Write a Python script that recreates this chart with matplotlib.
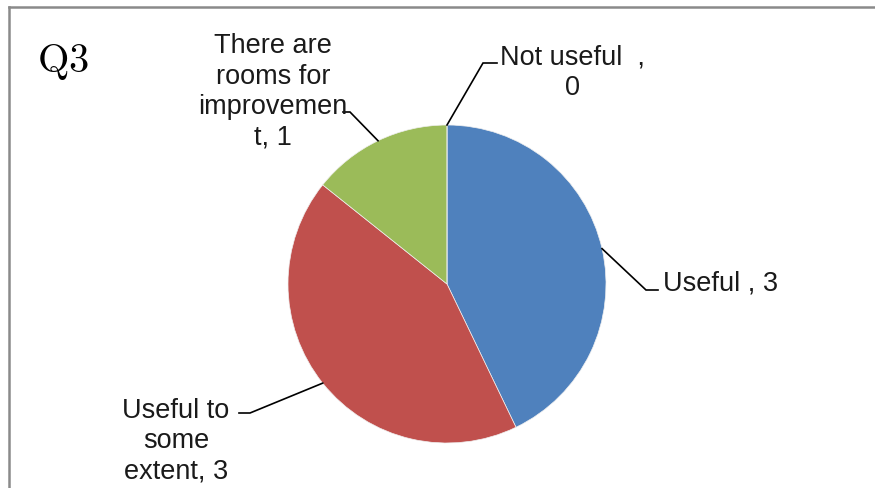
import numpy as np
import matplotlib
matplotlib.use("Agg")
import matplotlib.pyplot as plt
from matplotlib.lines import Line2D

title = "Q3"
categories = ["Useful ", "Useful to some extent", "There are rooms for improvement", "Not useful  "]
values = [3, 3, 1, 0]
label_texts = ["Useful , 3", "Useful to\nsome\nextent, 3", "There are\nrooms for\nimprovemen\nt, 1", "Not useful  ,\n0"]
colors = ["#4F81BD", "#C0504D", "#9BBB59", "#8064A2"]

plt.rcParams["font.family"] = ["Liberation Sans", "DejaVu Sans"]
plt.rcParams["mathtext.fontset"] = "cm"

W, H = 875, 488
fig = plt.figure(figsize=(W / 100, H / 100), dpi=100)
ax = fig.add_axes([0, 0, 1, 1])

cx, cy, R = 447, H - 284, 159
wedges, _ = ax.pie(values, colors=colors, startangle=90, counterclock=False,
                   center=(cx, cy), radius=R, frame=True,
                   wedgeprops=dict(linewidth=0.5, edgecolor="#f0f0f0"))
ax.set_xlim(0, W)
ax.set_ylim(0, H)
ax.axis("off")

# label layout: (elbow point, end point, text position, ha)
layout = [
    ((646, H - 290), (658, H - 290), (663, H - 283), "left"),
    ((250, H - 413), (239, H - 413), (176, H - 441), "center"),
    ((350, H - 112), (343, H - 112), (273, H - 92), "center"),
    ((483, H - 63), (497, H - 63), (572, H - 73), "center"),
]
for w, txt, (elb, end, tpos, ha) in zip(wedges, label_texts, layout):
    ang = np.deg2rad((w.theta1 + w.theta2) / 2)
    ex, ey = cx + R * np.cos(ang), cy + R * np.sin(ang)
    ax.plot([ex, elb[0], end[0]], [ey, elb[1], end[1]], color="black", lw=1.2,
            solid_joinstyle="miter")
    ax.text(tpos[0], tpos[1], txt, ha=ha, va="center", multialignment="center",
            fontsize=19.5, color="#1a1a1a", linespacing=1.22)

fig.text(37 / W, 1 - 62 / H, r"$\mathrm{" + title + "}$", fontsize=29,
         ha="left", va="center", color="black")

# outer border (top and left visible)
fig.add_artist(Line2D([8.5 / W, 1], [1 - 6.5 / H, 1 - 6.5 / H], transform=fig.transFigure,
                      color="#8a8a8a", lw=1.8))
fig.add_artist(Line2D([8.5 / W, 8.5 / W], [0, 1 - 6.5 / H], transform=fig.transFigure,
                      color="#8a8a8a", lw=1.8))

fig.savefig("out.png", dpi=100, facecolor="white")
